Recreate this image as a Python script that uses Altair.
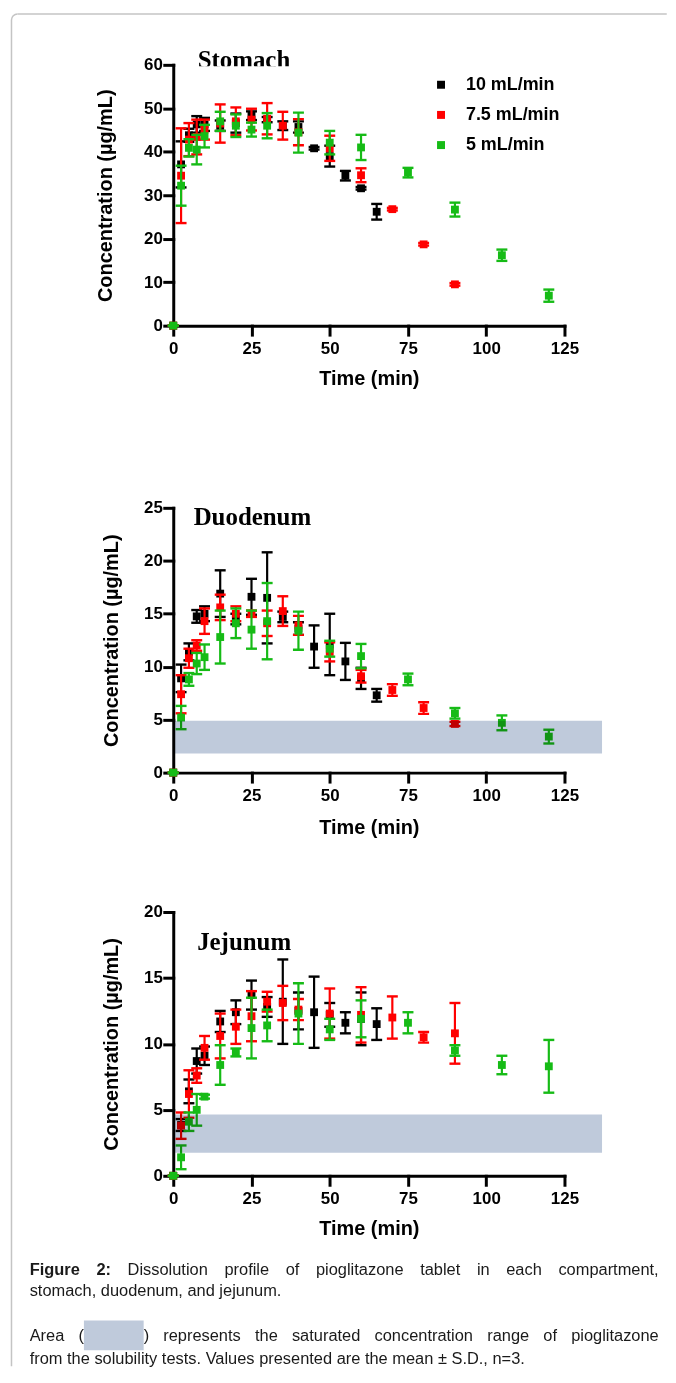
import altair as alt
import pandas as pd

SERIES = ["10 mL/min", "7.5 mL/min", "5 mL/min"]
COLORS = ["#000000", "#ff0000", "#16bb16"]
BAND_COLOR = "#bfcadb"

T_10 = [0, 2.5, 5, 7.5, 10, 15, 20, 25, 30, 35, 40, 45, 50, 55, 60, 65]
T_75 = [0, 2.5, 5, 7.5, 10, 15, 20, 25, 30, 35, 40, 50, 60, 70, 80, 90]
T_5 = [0, 2.5, 5, 7.5, 10, 15, 20, 25, 30, 40, 50, 60, 75, 90, 105, 120]

# Stomach
st_m_10 = [0, 37.1, 43.8, 46.3, 46.3, 46.0, 46.6, 48.3, 47.4, 46.0, 45.7, 40.8, 39.0, 34.5, 31.6, 26.2]
st_sd_10 = [0, 5.3, 1.5, 1.9, 1.5, 1.2, 2.2, 1.0, 0.6, 1.0, 1.3, 0.3, 2.4, 1.1, 0.3, 1.8]
st_m_75 = [0, 34.5, 42.8, 43.4, 45.1, 46.5, 47.0, 47.4, 47.6, 46.0, 44.5, 40.8, 34.6, 26.8, 18.7, 9.5]
st_sd_75 = [0, 10.9, 3.8, 4.0, 2.3, 4.4, 3.2, 2.5, 3.6, 3.2, 3.0, 2.9, 1.6, 0.3, 0.3, 0.3]
st_m_5 = [0, 32.2, 40.9, 40.5, 43.6, 47.0, 46.0, 45.1, 46.0, 44.4, 42.1, 41.0, 35.2, 26.7, 16.2, 6.9]
st_sd_5 = [0, 4.6, 2.0, 3.4, 2.6, 2.2, 2.6, 1.6, 2.9, 4.6, 2.7, 2.9, 1.1, 1.6, 1.3, 1.4]

# Duodenum
du_m_10 = [0, 8.9, 11.4, 14.75, 15.0, 16.9, 14.5, 16.6, 16.5, 14.7, 13.6, 11.9, 12.1, 10.5, 8.9, 7.3]
du_sd_10 = [0, 1.3, 0.8, 0.6, 0.7, 2.2, 0.5, 1.7, 4.3, 0.5, 0.6, 2.0, 2.9, 1.75, 1.0, 0.6]
du_m_75 = [0, 7.4, 10.8, 12.0, 14.3, 15.6, 15.0, 15.0, 14.1, 15.25, 13.9, 11.4, 9.1, 7.8, 6.1, 4.6]
du_sd_75 = [0, 1.8, 0.9, 0.5, 1.2, 1.2, 0.7, 0.3, 1.2, 1.4, 0.9, 0.9, 0.6, 0.55, 0.55, 0.2]
du_m_5 = [0, 5.2, 8.8, 10.3, 10.9, 12.8, 14.1, 13.5, 14.3, 13.4, 11.7, 11.0, 8.8, 5.6, 4.7, 3.4]
du_sd_5 = [0, 1.1, 0.6, 1.0, 1.2, 2.5, 1.4, 1.8, 3.6, 1.8, 0.75, 1.15, 0.55, 0.5, 0.7, 0.65]
du_band = [1.8, 4.9]

# Jejunum
je_m_10 = [0, 3.85, 6.4, 8.7, 9.1, 11.7, 12.4, 13.7, 12.8, 13.2, 12.5, 12.4, 12.2, 11.6, 11.9, 11.5]
je_sd_10 = [0, 0.45, 0.9, 0.95, 0.7, 0.8, 0.9, 1.1, 0.75, 3.2, 1.4, 2.7, 0.9, 0.8, 2.0, 1.2]
je_m_75 = [0, 3.8, 6.2, 7.6, 9.7, 10.6, 11.3, 12.1, 13.2, 13.1, 12.6, 12.3, 12.2, 12.0, 10.5, 10.8]
je_sd_75 = [0, 1.0, 1.8, 0.55, 0.9, 1.7, 1.3, 1.9, 0.75, 1.3, 0.8, 1.9, 2.1, 1.6, 0.4, 2.3]
je_m_5 = [0, 1.4, 4.1, 5.0, 6.0, 8.4, 9.35, 11.2, 11.4, 12.3, 11.1, 11.9, 11.6, 9.5, 8.4, 8.3]
je_sd_5 = [0, 0.9, 0.7, 1.2, 0.15, 1.5, 0.3, 2.3, 1.2, 2.3, 0.8, 1.4, 0.8, 0.4, 0.7, 2.0]
je_band = [1.75, 4.65]

BAND_END = 137
X_TICKS = [0, 25, 50, 75, 100, 125]

CAPTION_L1 = ["Figure", "2:", "Dissolution", "profile", "of", "pioglitazone", "tablet", "in", "each", "compartment,"]
CAPTION_L2 = "stomach, duodenum, and jejunum."
CAPTION_L3 = ["Area", "(BOX)", "represents", "the", "saturated", "concentration", "range", "of", "pioglitazone"]
CAPTION_L4 = "from the solubility tests. Values presented are the mean \u00b1 S.D., n=3."

SANS = "Liberation Sans"
SERIF = "Liberation Serif"

# ---------- layout constants (pixels) ----------
PLOT_W = 393
ORIGIN_X = 172.25
ORIGIN_Y = 64.75
H_ST, GAP1, H_DU, GAP2, H_JE = 262, 182.5, 266, 139.5, 265
CAP_Y0 = ORIGIN_Y + H_ST + GAP1 + H_DU + GAP2 + H_JE


def panel(means, sds, ymax, ystep, height, title, tx, ty, band=None,
          legend=False, ytitle_pad=22, xtitle_pad=12, extra=None, mask=False):
    xs = alt.Scale(domain=[0, 125], nice=False, zero=False)
    ys = alt.Scale(domain=[0, ymax], nice=False)
    xaxis = alt.Axis(values=X_TICKS, title="Time (min)", labelPadding=6,
                     titlePadding=xtitle_pad, format="d")
    yaxis = alt.Axis(values=list(range(0, ymax + 1, ystep)),
                     title="Concentration (\u00b5g/mL)", labelPadding=2,
                     titlePadding=ytitle_pad, format="d")
    layers = []
    times = [T_10, T_75, T_5]
    for i, s in enumerate(SERIES):
        df = pd.DataFrame({"t": times[i], "m": means[i], "sd": sds[i]})
        df["lo"] = df["m"] - df["sd"]
        df["hi"] = df["m"] + df["sd"]
        df["series"] = s
        base = alt.Chart(df)
        X = alt.X("t:Q", scale=xs, axis=xaxis)
        layers.append(base.mark_rule(color=COLORS[i], strokeWidth=2.2).encode(
            x=X, y=alt.Y("lo:Q", scale=ys, axis=yaxis), y2="hi:Q"))
        for f in ["lo", "hi"]:
            layers.append(base.mark_tick(color=COLORS[i], orient="horizontal",
                                         size=11, thickness=2.4, opacity=1).encode(
                x=X, y=alt.Y(f + ":Q", scale=ys, axis=yaxis)))
        leg = None
        if legend:
            leg = alt.Legend(orient="none", legendX=260, legendY=11,
                             title=None, symbolType="square", symbolSize=64,
                             symbolStrokeWidth=0, labelFont=SANS,
                             labelFontSize=18, labelFontWeight="bold",
                             labelColor="black", rowPadding=12.3,
                             labelOffset=16, padding=0)
        layers.append(base.mark_square(size=62, opacity=1).encode(
            x=X, y=alt.Y("m:Q", scale=ys, axis=yaxis),
            color=alt.Color("series:N",
                            scale=alt.Scale(domain=SERIES, range=COLORS),
                            legend=leg)))
    if band is not None:
        bdf = pd.DataFrame({"x": [0], "x2": [BAND_END], "y": [band[0]], "y2": [band[1]]})
        layers.append(alt.Chart(bdf).mark_rect(color=BAND_COLOR, blend="multiply").encode(
            x=alt.X("x:Q", scale=xs, axis=xaxis), x2="x2:Q",
            y=alt.Y("y:Q", scale=ys, axis=yaxis), y2="y2:Q"))
    tdf = pd.DataFrame({"label": [title]})
    layers.append(alt.Chart(tdf).mark_text(align="left", baseline="alphabetic",
                                           font=SERIF, fontSize=25,
                                           fontWeight="bold", color="black").encode(
        x=alt.value(tx), y=alt.value(ty), text="label:N"))
    if mask:
        # the panel title in the original is cut off by the top of the plot frame
        layers.append(alt.Chart(tdf).mark_rect(color="white").encode(
            x=alt.value(tx - 4), x2=alt.value(tx + 110),
            y=alt.value(1.5), y2=alt.value(8)))
    if extra:
        layers.extend(extra)
    return alt.layer(*layers).properties(width=PLOT_W, height=height)


# ---------- border of the figure box ----------
bd = pd.DataFrame({"k": [0]})
BL = 9.75 - ORIGIN_X
BT = 13.75 - ORIGIN_Y
border = [
    alt.Chart(bd).mark_rule(color="#c4c4c4", strokeWidth=1.5).encode(
        x=alt.value(BL), y=alt.value(BT + 6), y2=alt.value(1372 - ORIGIN_Y)),
    alt.Chart(bd).mark_rule(color="#c4c4c4", strokeWidth=1.5).encode(
        x=alt.value(BL + 6), x2=alt.value(668 - ORIGIN_X), y=alt.value(BT)),
    alt.Chart(bd).mark_arc(color="#c4c4c4", stroke="#c4c4c4", strokeWidth=1.5,
                           filled=False, innerRadius=6, outerRadius=6,
                           theta=4.712, theta2=6.283).encode(
        x=alt.value(BL + 6), y=alt.value(BT + 6)),
]

stomach = panel([st_m_10, st_m_75, st_m_5], [st_sd_10, st_sd_75, st_sd_5],
                60, 10, H_ST, "Stomach", 24.5, 3.0, legend=True,
                ytitle_pad=28, xtitle_pad=12, extra=border, mask=True)
duodenum = panel([du_m_10, du_m_75, du_m_5], [du_sd_10, du_sd_75, du_sd_5],
                 25, 5, H_DU, "Duodenum", 20.5, 17.5, band=du_band,
                 ytitle_pad=22, xtitle_pad=14)
jejunum = panel([je_m_10, je_m_75, je_m_5], [je_sd_10, je_sd_75, je_sd_5],
                20, 5, H_JE, "Jejunum", 24, 38.5, band=je_band,
                ytitle_pad=22, xtitle_pad=12)


def spacer(h):
    return alt.Chart(pd.DataFrame({"k": [0]})).mark_point(opacity=0).encode(
        x=alt.value(0), y=alt.value(0)).properties(width=PLOT_W, height=h)


# ---------- caption ----------
AR = {' ': 278, 'a': 556, 'b': 556, 'c': 500, 'd': 556, 'e': 556, 'f': 278, 'g': 556,
      'h': 556, 'i': 222, 'j': 222, 'k': 500, 'l': 222, 'm': 833, 'n': 556, 'o': 556,
      'p': 556, 'q': 556, 'r': 333, 's': 500, 't': 278, 'u': 556, 'v': 500, 'w': 722,
      'x': 500, 'y': 500, 'z': 500, 'A': 667, 'D': 722, 'F': 611, 'S': 667, 'V': 667,
      ',': 278, '.': 278, ':': 278, '(': 333, ')': 333, '2': 556, '3': 556, '=': 584,
      '\u00b1': 584}
ARB = {'F': 611, 'i': 278, 'g': 611, 'u': 611, 'r': 389, 'e': 556, ' ': 278, '2': 556,
       ':': 333}
CAP_FS = 16.5
BOX_W = 60


def tw(s, bold=False):
    tab = ARB if bold else AR
    return sum(tab.get(c, 556) for c in s) * CAP_FS / 1000.0


X0, X1 = 28.0, 660.0


def justify(words, bold_set, y):
    widths = []
    for w in words:
        if w == "(BOX)":
            widths.append(tw("(") + BOX_W + tw(")"))
        else:
            widths.append(tw(w, w in bold_set))
    gap = (X1 - X0 - sum(widths)) / (len(words) - 1)
    rows, boxes = [], []
    x = X0
    for w, wd in zip(words, widths):
        if w == "(BOX)":
            rows.append({"text": "(", "px": x - ORIGIN_X, "py": y, "bold": False})
            boxes.append({"bx": x + tw("(") - ORIGIN_X, "bx2": x + tw("(") + BOX_W - ORIGIN_X})
            rows.append({"text": ")", "px": x + tw("(") + BOX_W - ORIGIN_X, "py": y, "bold": False})
        else:
            rows.append({"text": w, "px": x - ORIGIN_X, "py": y, "bold": w in bold_set})
        x += wd + gap
    return rows, boxes


L1Y, L2Y, L3Y, L4Y = 1279 - CAP_Y0, 1301 - CAP_Y0, 1346 - CAP_Y0, 1369 - CAP_Y0
r1, _ = justify(CAPTION_L1, {"Figure", "2:"}, L1Y)
r3, bx = justify(CAPTION_L3, set(), L3Y)
rows = r1 + r3 + [
    {"text": CAPTION_L2, "px": X0 - ORIGIN_X, "py": L2Y, "bold": False},
    {"text": CAPTION_L4, "px": X0 - ORIGIN_X, "py": L4Y, "bold": False},
]
cap_df = pd.DataFrame(rows)
box_df = pd.DataFrame(bx)
box_df["by"] = 1325 - CAP_Y0
box_df["by2"] = 1355 - CAP_Y0

cap_base = alt.Chart(cap_df)
caption = alt.layer(
    alt.Chart(box_df).mark_rect(color=BAND_COLOR).encode(
        x=alt.X("bx:Q", scale=None, axis=None), x2="bx2:Q",
        y=alt.Y("by:Q", scale=None, axis=None), y2="by2:Q"),
    cap_base.transform_filter("datum.bold").mark_text(
        align="left", baseline="alphabetic", font=SANS, fontSize=CAP_FS,
        fontWeight="bold", color="#1a1a1a").encode(
        x=alt.X("px:Q", scale=None, axis=None), y=alt.Y("py:Q", scale=None, axis=None),
        text="text:N"),
    cap_base.transform_filter("!datum.bold").mark_text(
        align="left", baseline="alphabetic", font=SANS, fontSize=CAP_FS,
        color="#1a1a1a").encode(
        x=alt.X("px:Q", scale=None, axis=None), y=alt.Y("py:Q", scale=None, axis=None),
        text="text:N"),
).properties(width=PLOT_W, height=1)

chart = alt.vconcat(stomach, spacer(GAP1), duodenum, spacer(GAP2), jejunum, caption,
                    spacing=0, bounds="flush").resolve_scale(
    color="independent", x="independent", y="independent").properties(
    padding={"left": 0, "top": 0, "right": 0, "bottom": 0}, background="white"
).configure_view(stroke=None).configure_axis(
    domainColor="black", domainWidth=3, domainCap="square", tickColor="black",
    tickWidth=3, tickSize=9, tickCap="square", grid=False,
    labelFont=SANS, labelFontSize=17, labelFontWeight="bold", labelColor="black",
    titleFont=SANS, titleFontSize=20, titleFontWeight="bold", titleColor="black",
    labelFlush=False, labelOverlap=False)

chart.save("out.html", embed_options={"renderer": "svg", "actions": False})
